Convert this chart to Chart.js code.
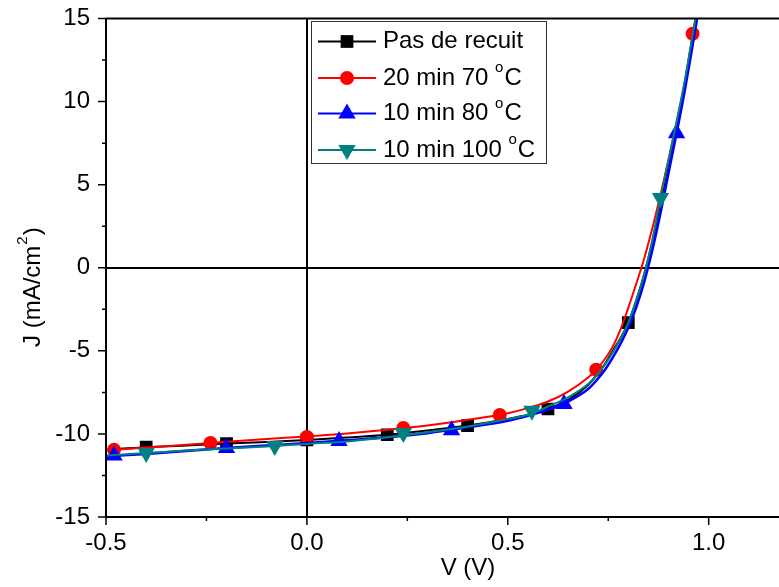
<!DOCTYPE html>
<html>
<head>
<meta charset="utf-8">
<script src="https://cdn.jsdelivr.net/npm/chart.js@4/dist/chart.umd.min.js"></script>
<style>
  html, body { margin: 0; padding: 0; background: #fff; }
  #wrap { width: 779px; height: 587px; }
</style>
</head>
<body>
<div id="wrap"><canvas id="myChart" width="779" height="587"></canvas></div>
<script>
// Voltage grid for the smooth curves (V)
const vLine = [-0.5, -0.4, -0.3, -0.2, -0.1, 0, 0.1, 0.2, 0.3, 0.4, 0.5, 0.55, 0.6, 0.65, 0.7, 0.72, 0.74, 0.76, 0.78, 0.8, 0.82, 0.84, 0.86, 0.88, 0.9, 0.92, 0.94, 0.96, 0.98];

// Current density curves (mA/cm2)
const jBlack = [-10.95, -10.8, -10.7, -10.58, -10.48, -10.36, -10.22, -10.05, -9.8, -9.5, -9.1, -8.85, -8.5, -7.95, -7.05, -6.5, -5.85, -5.05, -4.25, -3.3, -1.95, -0.35, 1.6, 3.9, 6.3, 8.6, 11.0, 13.9, 16.6];
const jRed   = [-11.0, -10.82, -10.65, -10.47, -10.3, -10.15, -9.97, -9.75, -9.5, -9.15, -8.75, -8.45, -8.05, -7.45, -6.6, -6.14, -5.55, -4.8, -3.75, -2.4, -0.95, 0.6, 2.4, 4.4, 6.5, 8.7, 11.1, 14.0, 16.8];
const jBlue  = [-11.35, -11.2, -11.02, -10.85, -10.7, -10.55, -10.38, -10.2, -9.95, -9.6, -9.2, -8.9, -8.55, -8.05, -7.3, -6.8, -6.2, -5.45, -4.6, -3.6, -2.35, -0.8, 1.1, 3.3, 5.7, 8.1, 10.6, 13.4, 16.3];
const jTeal  = [-11.3, -11.15, -11.0, -10.88, -10.75, -10.6, -10.45, -10.2, -9.9, -9.55, -9.1, -8.85, -8.35, -7.8, -7.0, -6.5, -5.9, -5.15, -4.3, -3.3, -1.95, -0.35, 1.7, 4.2, 6.5, 8.8, 11.2, 14.0, 16.7];

// Marker points
const vBlackPts = [-0.4, -0.2, 0.0, 0.2, 0.4, 0.6, 0.8];
const jBlackPts = [-10.8, -10.58, -10.36, -10.05, -9.5, -8.5, -3.3];
const vRedPts = [-0.48, -0.24, 0.0, 0.24, 0.48, 0.72, 0.96];
const jRedPts = [-10.96, -10.54, -10.18, -9.64, -8.86, -6.14, 14.08];
const vBluePts = [-0.48, -0.2, 0.08, 0.36, 0.64, 0.92];
const jBluePts = [-11.3, -10.85, -10.42, -9.78, -8.2, 8.1];
const vTealPts = [-0.4, -0.08, 0.24, 0.56, 0.88];
const jTealPts = [-11.15, -10.72, -9.94, -8.6, 4.2];

// Axis ticks
const xTicks = [-0.5, 0.0, 0.5, 1.0];
const xMinor = [-0.25, 0.25, 0.75];
const yTicks = [-15, -10, -5, 0, 5, 10, 15];
const yMinor = [-12.5, -7.5, -2.5, 2.5, 7.5, 12.5];

const FONT = '"Liberation Sans", Arial, sans-serif';

function pts(xs, ys) {
    return xs.map((x, i) => ({ x: x, y: ys[i] }));
}

const series = [
    { label: 'Pas de recuit', color: '#000000', line: jBlack, vp: vBlackPts, jp: jBlackPts, style: 'rect', radius: 9, rot: 0, width: 2, deg: null },
    { label: '20 min 70 ', color: '#ff0000', line: jRed, vp: vRedPts, jp: jRedPts, style: 'circle', radius: 7, rot: 0, width: 2, deg: 'C' },
    { label: '10 min 80 ', color: '#0000ff', line: jBlue, vp: vBluePts, jp: jBluePts, style: 'triangle', radius: 10, rot: 0, width: 2.6, deg: 'C' },
    { label: '10 min 100 ', color: '#008080', line: jTeal, vp: vTealPts, jp: jTealPts, style: 'triangle', radius: 10, rot: 180, width: 2, deg: 'C' }
];

const datasets = [];
series.forEach((s, i) => {
    datasets.push({
        data: pts(vLine, s.line),
        showLine: true,
        borderColor: s.color,
        borderWidth: s.width,
        pointRadius: 0,
        cubicInterpolationMode: 'monotone',
        order: 20 - i * 2
    });
    datasets.push({
        data: pts(s.vp, s.jp),
        showLine: false,
        backgroundColor: s.color,
        borderColor: s.color,
        borderWidth: 0,
        pointStyle: s.style,
        pointRadius: s.radius,
        rotation: s.rot,
        order: 19 - i * 2
    });
});

// zero lines under the curves
const zeroLines = {
    id: 'zeroLines',
    beforeDatasetsDraw(chart) {
        const { ctx, chartArea: a, scales: { x, y } } = chart;
        ctx.save();
        ctx.strokeStyle = '#000';
        ctx.lineWidth = 2;
        const x0 = Math.round(x.getPixelForValue(0));
        const y0 = Math.round(y.getPixelForValue(0));
        ctx.beginPath();
        ctx.moveTo(x0, a.top); ctx.lineTo(x0, a.bottom);
        ctx.moveTo(a.left, y0); ctx.lineTo(a.right, y0);
        ctx.stroke();
        ctx.restore();
    }
};

// axes, ticks, titles and legend
const frame = {
    id: 'frame',
    afterDraw(chart) {
        const { ctx, chartArea: a, scales: { x, y } } = chart;
        ctx.save();
        ctx.strokeStyle = '#000';
        ctx.lineWidth = 2;
        ctx.beginPath();
        ctx.moveTo(a.left, a.top); ctx.lineTo(a.right, a.top);
        ctx.moveTo(a.left, a.top); ctx.lineTo(a.left, a.bottom);
        ctx.moveTo(a.left, a.bottom); ctx.lineTo(a.right, a.bottom);
        ctx.stroke();

        ctx.lineWidth = 1.5;
        ctx.beginPath();
        xTicks.forEach(v => { const p = x.getPixelForValue(v); ctx.moveTo(p, a.bottom); ctx.lineTo(p, a.bottom + 8); });
        xMinor.forEach(v => { const p = x.getPixelForValue(v); ctx.moveTo(p, a.bottom); ctx.lineTo(p, a.bottom + 4); });
        yTicks.forEach(v => { const p = y.getPixelForValue(v); ctx.moveTo(a.left, p); ctx.lineTo(a.left - 8, p); });
        yMinor.forEach(v => { const p = y.getPixelForValue(v); ctx.moveTo(a.left, p); ctx.lineTo(a.left - 4, p); });
        ctx.stroke();

        ctx.fillStyle = '#000';
        // x title
        ctx.font = '24px ' + FONT;
        ctx.textAlign = 'center';
        ctx.textBaseline = 'middle';
        ctx.fillText('V (V)', 468, 568);

        // y title with superscript
        ctx.save();
        ctx.translate(33, 347);
        ctx.rotate(-Math.PI / 2);
        ctx.textAlign = 'left';
        ctx.font = '24px ' + FONT;
        const base = 'J (mA/cm';
        ctx.fillText(base, 0, 0);
        let w = ctx.measureText(base).width;
        ctx.font = '15px ' + FONT;
        ctx.fillText('2', w + 1, -10);
        w += ctx.measureText('2').width + 2;
        ctx.font = '24px ' + FONT;
        ctx.fillText(')', w, 0);
        ctx.restore();

        // legend
        ctx.fillStyle = '#fff';
        ctx.fillRect(311, 21, 236, 143);
        ctx.strokeStyle = '#333';
        ctx.lineWidth = 1;
        ctx.strokeRect(311.5, 21.5, 235, 142);
        const rows = [41.5, 78, 113.5, 150];
        series.forEach((s, i) => {
            const ry = rows[i];
            ctx.strokeStyle = s.color;
            ctx.lineWidth = 2;
            ctx.beginPath();
            ctx.moveTo(318, ry); ctx.lineTo(376, ry);
            ctx.stroke();
            ctx.fillStyle = s.color;
            Chart.helpers.drawPoint(ctx, { pointStyle: s.style, radius: s.radius, rotation: s.rot, borderWidth: 0 }, 347, ry);
            ctx.fillStyle = '#000';
            ctx.textAlign = 'left';
            ctx.textBaseline = 'middle';
            ctx.font = '24px ' + FONT;
            ctx.fillText(s.label, 383, ry);
            if (s.deg) {
                let tw = ctx.measureText(s.label).width;
                ctx.font = '15px ' + FONT;
                ctx.fillText('o', 383 + tw, ry - 10);
                tw += ctx.measureText('o').width + 1;
                ctx.font = '24px ' + FONT;
                ctx.fillText(s.deg, 383 + tw, ry);
            }
        });
        ctx.restore();
    }
};

const ctx = document.getElementById('myChart').getContext('2d');
const myChart = new Chart(ctx, {
    type: 'scatter',
    data: { datasets: datasets },
    options: {
        responsive: false,
        animation: false,
        layout: { autoPadding: false, padding: { top: 18.5, right: 0, left: 0, bottom: 0 } },
        plugins: { legend: { display: false }, tooltip: { enabled: false } },
        scales: {
            x: {
                type: 'linear',
                min: -0.5,
                max: 1.175,
                afterFit: s => { s.height = 70; s.paddingLeft = 0; s.paddingRight = 0; },
                afterBuildTicks: s => { s.ticks = xTicks.map(v => ({ value: v })); },
                grid: { display: true, drawOnChartArea: false, drawTicks: false },
                border: { display: false },
                ticks: {
                    padding: 12,
                    color: '#000',
                    font: { family: FONT, size: 24 },
                    maxRotation: 0,
                    autoSkip: false,
                    callback: v => v.toFixed(1)
                }
            },
            y: {
                type: 'linear',
                min: -15,
                max: 15,
                afterFit: s => { s.width = 106; s.paddingTop = 0; s.paddingBottom = 0; },
                afterBuildTicks: s => { s.ticks = yTicks.map(v => ({ value: v })); },
                grid: { display: true, drawOnChartArea: false, drawTicks: false },
                border: { display: false },
                ticks: {
                    padding: 16,
                    color: '#000',
                    font: { family: FONT, size: 24 },
                    autoSkip: false,
                    callback: v => String(v)
                }
            }
        }
    },
    plugins: [zeroLines, frame]
});
</script>
</body>
</html>
